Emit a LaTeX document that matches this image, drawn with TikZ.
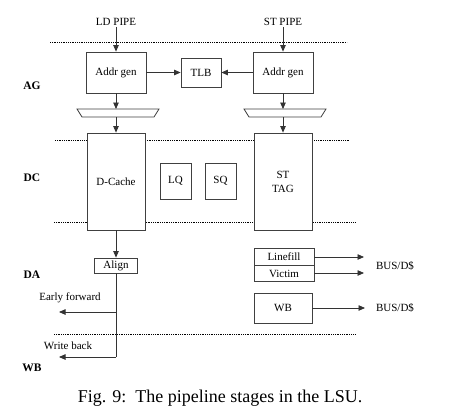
\documentclass[tikz,border=0pt]{standalone}
\usepackage{fontspec}
\setmainfont{Liberation Serif}
\usepackage{tikz}
\usetikzlibrary{positioning}
\usetikzlibrary{arrows.meta}
\tikzset{
	blk/.style={draw=black!75, line width=0.8pt, fill=white, inner sep=0pt, font=\fontsize{11}{12}\selectfont},
	mux/.style={draw=black!75, line width=0.8pt, fill=white},
	arr/.style={black!80, line width=0.8pt, -{Triangle[length=6.5pt,width=5.5pt]}},
	stage/.style={font=\fontsize{11.5}{12}\selectfont\bfseries},
	lbl/.style={font=\fontsize{11}{12}\selectfont, inner sep=1pt},
	sep/.style={black, line width=0.8pt, densely dotted}
}

\begin{document}
\begin{tikzpicture}[x=1pt, y=-1pt]
	\useasboundingbox (0,0) rectangle (464,413);
	% stage separators
	\draw[sep] (50, 42)--(347, 42);
	\draw[sep] (55,140)--(349,140);
	\draw[sep] (54,222)--(355,222);
	\draw[sep] (54,334)--(355,334);
	% stage names
	\node[stage] (sAG) at (32, 86) {AG};
	\node[stage] (sDC) at (32,178) {DC};
	\node[stage] (sDA) at (32,275) {DA};
	\node[stage] (sWB) at (32,368) {WB};
	% load side
	\node[lbl] (ldpipe) at (116, 22) {LD PIPE};
	\node[blk, minimum width=60pt, minimum height=41pt] (agl) at (116, 72.5) {Addr gen};
	\draw[mux] (77,109)--(159,109)--(154,117)--(82,117)--cycle;
	\coordinate (muxlt) at (116,109);
	\coordinate (muxlb) at (116,117);
	\node[blk, minimum width=58pt, minimum height=97pt] (dcache) at (116,181.5) {D-Cache};
	\node[blk, minimum width=43pt, minimum height=15pt] (align) at (116,265.5) {Align};
	% store side
	\node[lbl] (stpipe) at (283, 22) {ST PIPE};
	\node[blk, minimum width=60pt, minimum height=41pt] (agr) at (283, 72.5) {Addr gen};
	\draw[mux] (244,109)--(326,109)--(321,117)--(249,117)--cycle;
	\coordinate (muxrt) at (283,109);
	\coordinate (muxrb) at (283,117);
	\node[blk, minimum width=58pt, minimum height=97pt, align=center] (sttag) at (283,181.5) {ST\\[2pt]TAG};
	% middle
	\node[blk, minimum width=40pt, minimum height=29pt] (tlb) at (201, 72.5) {TLB};
	\node[blk, minimum width=31pt, minimum height=36pt] (lq) at (175.5,181) {LQ};
	\node[blk, minimum width=31pt, minimum height=36pt] (sq) at (220.5,181) {SQ};
	% buffers
	\node[blk, minimum width=60pt, minimum height=17pt] (linefill) at (284,256.5) {Linefill};
	\node[blk, minimum width=60pt, minimum height=16pt, below=0pt of linefill] (victim) {Victim};
	\node[blk, minimum width=58pt, minimum height=30pt] (wb) at (283,308) {WB};
	\node[lbl] (bus1) at (395,266) {BUS/D\$};
	\node[lbl] (bus2) at (395,308) {BUS/D\$};
	\coordinate (lfend) at (364,257);
	\coordinate (vcend) at (364,273);
	\coordinate (wbend) at (365,308);
	% align outputs
	\coordinate (tap) at (116,312);
	\coordinate (tapend) at (116,357);
	\coordinate (ef) at (59,312);
	\coordinate (wbk) at (59,357);
	\node[lbl] (eftext) at (70,298) {Early forward};
	\node[lbl] (wbtext) at (68,346) {Write back};
	% connectors
	\draw[arr] (ldpipe)--(agl);
	\draw[arr] (stpipe)--(agr);
	\draw[arr] (agl)--(tlb);
	\draw[arr] (agr)--(tlb);
	\draw[arr] (agl)--(muxlt);
	\draw[arr] (agr)--(muxrt);
	\draw[arr] (muxlb)--(dcache);
	\draw[arr] (muxrb)--(sttag);
	\draw[arr] (dcache)--(align);
	\draw[black!80, line width=0.8pt] (align)--(tapend);
	\draw[arr] (tap)--(ef);
	\draw[arr] (tapend)--(wbk);
	\draw[arr] (linefill.east |- lfend)--(lfend);
	\draw[arr] (victim.east |- vcend)--(vcend);
	\draw[arr] (wb)--(wbend);
	% caption
	\node[font=\fontsize{18}{20}\selectfont, anchor=base] (caption) at (220,402) {Fig. 9:\ \ The pipeline stages in the LSU.};
\end{tikzpicture}
\end{document}
